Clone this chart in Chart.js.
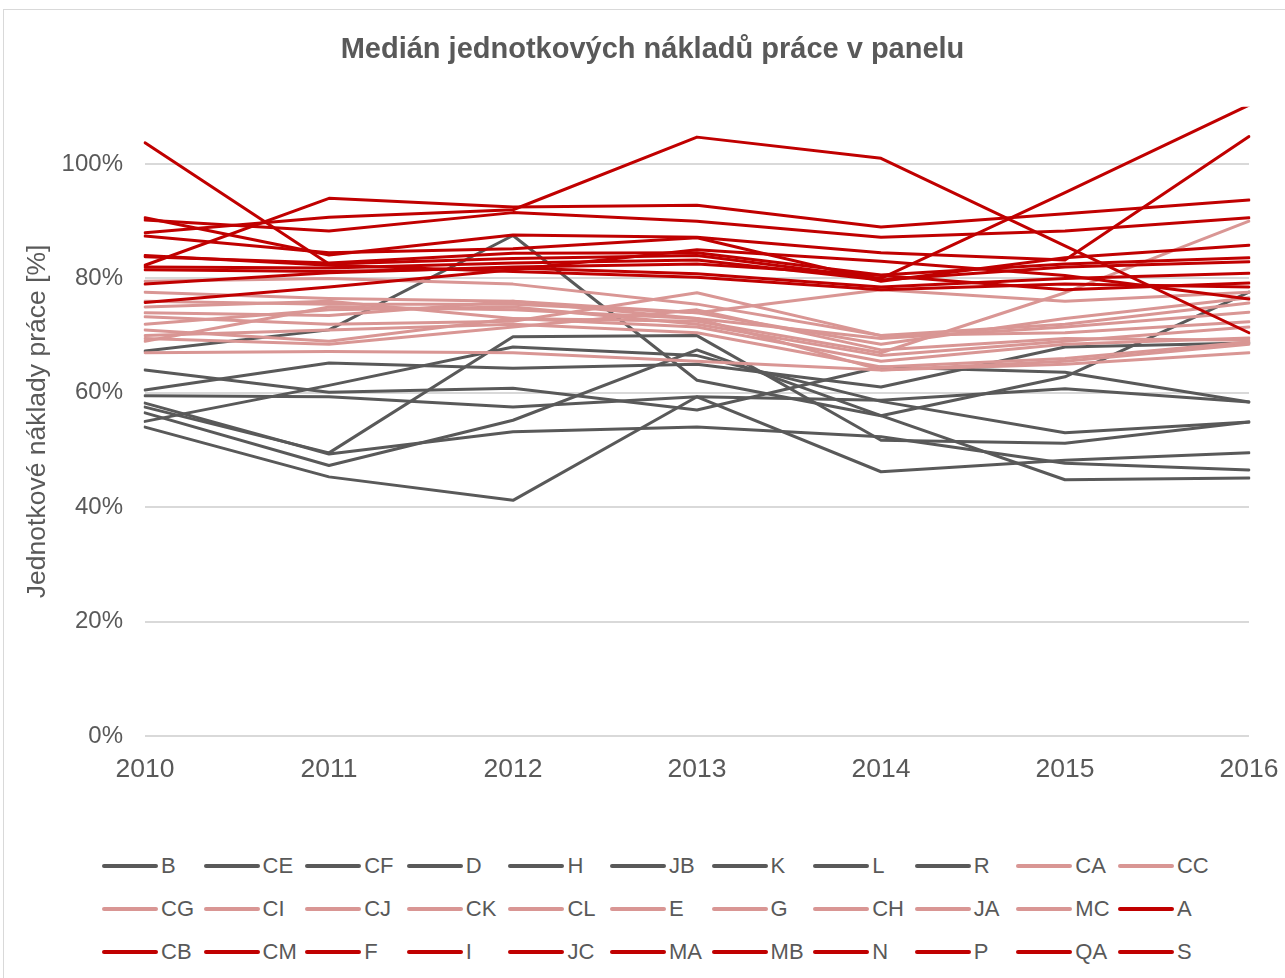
<!DOCTYPE html>
<html lang="cs">
<head>
<meta charset="utf-8">
<title>Medián jednotkových nákladů práce v panelu</title>
<script src="https://cdn.jsdelivr.net/npm/chart.js@4.4.1/dist/chart.umd.min.js"></script>
<style>
  html, body { margin: 0; padding: 0; background: #ffffff; }
  body { width: 1285px; height: 978px; overflow: hidden; position: relative; font-family: "Liberation Sans", Arial, sans-serif; }
  #frame { position: absolute; left: 3px; top: 9px; width: 1300px; height: 1000px; border: 1px solid #d9d9d9; box-sizing: border-box; }
  #chart-box { position: absolute; left: 0; top: 0; width: 1305px; height: 790px; }
  #legend { position: absolute; left: 102px; top: 844px; width: 1120px; }
  .legend-row { display: flex; height: 43px; align-items: center; }
  .legend-item { width: 101.6px; display: flex; align-items: center; flex: none; }
  .legend-line { width: 56px; height: 4px; border-radius: 2px; flex: none; }
  .legend-text { margin-left: 3px; font-size: 22px; color: #595959; line-height: 1; }
</style>
</head>
<body>
<div id="frame"></div>
<div id="chart-box"><canvas id="chart"></canvas></div>
<div id="legend"></div>
<script>
const years = ["2010", "2011", "2012", "2013", "2014", "2015", "2016"];
const yTicks = [0, 20, 40, 60, 80, 100];

const grayColor = "#595959";
const pinkColor = "#d99694";
const redColor = "#c00000";

const grayNames = ["B", "CE", "CF", "D", "H", "JB", "K", "L", "R"];
const grayValues = [
  [67.3, 71.0, 87.5, 62.2, 56.0, 62.8, 77.6],
  [57.5, 49.5, 69.8, 70.0, 51.7, 51.2, 54.9],
  [64.0, 60.1, 60.8, 57.0, 64.5, 63.6, 58.4],
  [60.5, 65.2, 64.3, 65.0, 61.0, 68.0, 68.7],
  [59.5, 59.3, 57.5, 59.3, 58.7, 60.7, 58.4],
  [55.0, 61.3, 68.0, 66.5, 58.5, 53.0, 54.9],
  [58.2, 49.3, 53.2, 54.0, 52.3, 47.7, 46.5],
  [56.5, 47.3, 55.2, 67.5, 56.0, 44.8, 45.1],
  [54.0, 45.3, 41.2, 59.3, 46.2, 48.2, 49.5]
];

const pinkNames = ["CA", "CC", "CG", "CI", "CJ", "CK", "CL", "E", "G", "CH", "JA", "MC"];
const pinkValues = [
  [79.5, 80.0, 79.0, 75.5, 70.0, 72.0, 75.7],
  [77.6, 76.5, 76.0, 74.0, 78.0, 76.0, 77.6],
  [76.0, 75.5, 75.5, 74.0, 68.5, 73.0, 76.6],
  [75.0, 76.0, 73.0, 72.5, 67.0, 77.5, 90.0],
  [74.0, 73.5, 76.0, 73.0, 69.5, 71.5, 74.1],
  [73.3, 72.0, 72.5, 77.5, 70.0, 70.5, 72.4],
  [72.0, 74.5, 75.0, 72.0, 66.5, 69.0, 71.5],
  [71.0, 69.0, 73.0, 71.5, 65.5, 68.5, 69.6],
  [70.0, 71.0, 72.0, 70.5, 64.5, 66.0, 68.9],
  [69.5, 68.5, 71.5, 74.5, 67.5, 69.5, 69.2],
  [69.0, 75.0, 74.5, 73.0, 64.0, 65.5, 68.5],
  [67.0, 67.2, 67.0, 65.5, 64.0, 65.0, 67.0]
];

const redNames = ["A", "CB", "CM", "F", "I", "JC", "MA", "MB", "N", "P", "QA", "S"];
const redValues = [
  [82.3, 94.0, 92.5, 92.8, 89.0, 91.3, 93.7],
  [88.0, 90.7, 92.0, 104.7, 101.0, 85.7, 70.5],
  [103.7, 82.5, 83.5, 84.0, 80.0, 95.0, 110.3],
  [90.6, 84.1, 87.6, 87.2, 84.5, 83.2, 104.8],
  [90.2, 88.3, 91.5, 90.0, 87.2, 88.3, 90.6],
  [87.4, 84.5, 85.2, 87.1, 79.5, 83.6, 85.8],
  [83.8, 82.7, 84.4, 84.5, 80.6, 82.5, 83.6],
  [82.0, 81.8, 82.7, 83.2, 79.7, 82.0, 82.9],
  [81.5, 81.2, 81.8, 80.8, 78.5, 80.0, 80.9],
  [79.0, 81.0, 82.0, 82.5, 80.5, 78.0, 79.2],
  [75.8, 78.5, 81.5, 85.0, 83.0, 80.5, 76.4],
  [84.0, 82.3, 81.2, 80.2, 78.0, 79.0, 78.5]
];

const FONT = "'Liberation Sans', Arial, sans-serif";

function buildDatasets() {
  const groups = [
    { names: grayNames, values: grayValues, color: grayColor },
    { names: pinkNames, values: pinkValues, color: pinkColor },
    { names: redNames, values: redValues, color: redColor }
  ];
  const datasets = [];
  groups.forEach((group) => {
    group.names.forEach((name, i) => {
      datasets.push({
        label: name,
        data: group.values[i],
        borderColor: group.color,
        backgroundColor: group.color,
        borderWidth: 3,
        pointRadius: 0,
        tension: 0,
        borderJoinStyle: "round",
        borderCapStyle: "round",
        fill: false
      });
    });
  });
  // later series sit on top, like the original
  datasets.forEach((ds, i) => { ds.order = datasets.length - i; });
  return datasets;
}

function renderLegend(datasets) {
  const legend = document.getElementById("legend");
  const perRow = 11;
  for (let start = 0; start < datasets.length; start += perRow) {
    const row = document.createElement("div");
    row.className = "legend-row";
    datasets.slice(start, start + perRow).forEach((ds) => {
      const item = document.createElement("div");
      item.className = "legend-item";
      item.innerHTML = `<span class="legend-line" style="background:${ds.borderColor}"></span><span class="legend-text">${ds.label}</span>`;
      row.appendChild(item);
    });
    legend.appendChild(row);
  }
}

const datasets = buildDatasets();

new Chart(document.getElementById("chart"), {
  type: "line",
  data: { labels: years, datasets },
  options: {
    responsive: true,
    maintainAspectRatio: false,
    animation: false,
    layout: { padding: 0 },
    plugins: {
      legend: { display: false },
      tooltip: { enabled: false },
      title: {
        display: true,
        text: "Medián jednotkových nákladů práce v panelu",
        color: grayColor,
        font: { family: FONT, size: 29, weight: "bold" },
        padding: { top: 33, bottom: 39 }
      }
    },
    scales: {
      x: {
        type: "category",
        offset: false,
        grid: { display: false, drawTicks: false },
        border: { display: false },
        ticks: { color: grayColor, font: { family: FONT, size: 26.5 }, padding: 18, maxRotation: 0 },
        afterFit(scale) {
          scale.height = 54;
          scale.paddingLeft = 0;
          scale.paddingRight = 56;
        }
      },
      y: {
        min: 0,
        max: 110,
        grid: { color: "#d9d9d9", lineWidth: 2, drawTicks: false },
        border: { display: false },
        ticks: {
          stepSize: 20,
          color: grayColor,
          font: { family: FONT, size: 24 },
          padding: 22,
          callback(value) { return value + "%"; }
        },
        afterBuildTicks(scale) {
          scale.ticks = yTicks.map((v) => ({ value: v }));
        },
        title: {
          display: true,
          text: "Jednotkové náklady práce [%]",
          color: grayColor,
          font: { family: FONT, size: 26.5 },
          padding: { top: 22, bottom: 0 }
        },
        afterFit(scale) { scale.width = 145; }
      }
    }
  }
});

renderLegend(datasets);
</script>
</body>
</html>
